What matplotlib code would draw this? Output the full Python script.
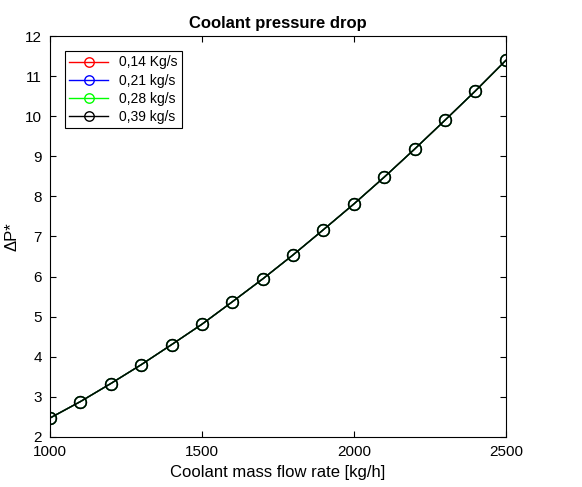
import matplotlib.pyplot as plt

plt.rcParams['font.family'] = ['Liberation Sans', 'DejaVu Sans']

flow = [1000, 1100, 1200, 1300, 1400, 1500, 1600, 1700, 1800, 1900,
        2000, 2100, 2200, 2300, 2400, 2500]
dp = [2.47, 2.88, 3.33, 3.80, 4.30, 4.81, 5.37, 5.94, 6.54, 7.17,
      7.81, 8.48, 9.18, 9.90, 10.63, 11.39]
labels = ['0,14 Kg/s', '0,21 kg/s', '0,28 kg/s', '0,39 kg/s']
colors = ['red', 'blue', '#00ff00', 'black']

fig = plt.figure(figsize=(5.82, 4.87), dpi=100)
ax = fig.add_axes([0.086, 0.103, 0.783, 0.823])

for lab, c in zip(labels, colors):
    ax.plot(flow, dp, color=c, lw=1.0, marker='o', ms=8.5,
            mfc='none', mec=c, mew=1.0, label=lab)

ax.set_xlim(1000, 2500)
ax.set_ylim(2, 12)
ax.set_xticks([1000, 1500, 2000, 2500])
ax.set_yticks(range(2, 13))
ax.tick_params(direction='in', top=True, right=True, labelsize=11, length=4)
ax.tick_params(axis='y', pad=6)
ax.tick_params(axis='x', pad=6)
for s in ax.spines.values():
    s.set_linewidth(0.8)

ax.set_title('Coolant pressure drop', fontsize=12, fontweight='bold', pad=6)
ax.set_xlabel('Coolant mass flow rate [kg/h]', fontsize=12, labelpad=4)
ax.set_ylabel('ΔP*', fontsize=12, labelpad=4)

leg = ax.legend(loc='upper left', fontsize=10, fancybox=False,
                edgecolor='black', framealpha=1, handlelength=2.8,
                borderaxespad=1.1, labelspacing=0.3, borderpad=0.3,
                markerscale=0.8)
leg.get_frame().set_linewidth(0.8)

fig.savefig('out.png', dpi=100)
